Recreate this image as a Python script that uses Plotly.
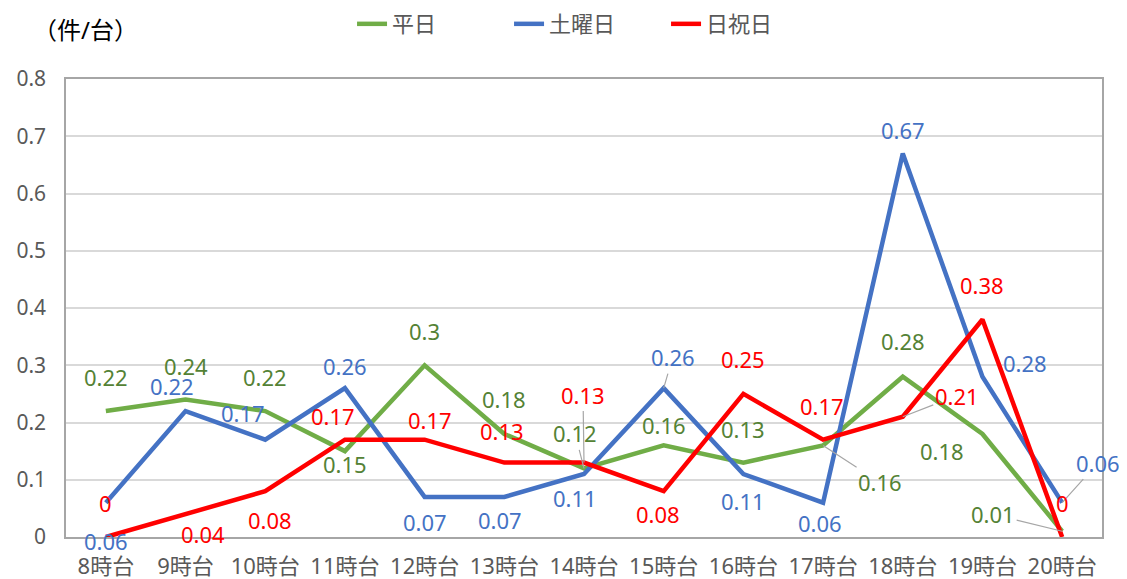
import plotly.graph_objects as go

categories = ["8時台", "9時台", "10時台", "11時台", "12時台", "13時台", "14時台",
              "15時台", "16時台", "17時台", "18時台", "19時台", "20時台"]
weekday = [0.22, 0.24, 0.22, 0.15, 0.3, 0.18, 0.12, 0.16, 0.13, 0.16, 0.28, 0.18, 0.01]
saturday = [0.06, 0.22, 0.17, 0.26, 0.07, 0.07, 0.11, 0.26, 0.11, 0.06, 0.67, 0.28, 0.06]
holiday = [0, 0.04, 0.08, 0.17, 0.17, 0.13, 0.13, 0.08, 0.25, 0.17, 0.21, 0.38, 0]
y_ticks = [0, 0.1, 0.2, 0.3, 0.4, 0.5, 0.6, 0.7, 0.8]

FONT = "Noto Sans, Noto Sans CJK JP"
GRAY = "#595959"

series = [
    ("平日", weekday, "#70AD47", "#548235"),
    ("土曜日", saturday, "#4472C4", "#4472C4"),
    ("日祝日", holiday, "#FF0000", "#FF0000"),
]

# label offsets in screen pixels (dx, dy down); "L" means leader line
label_pos = {
    "平日": [(0, -34), (0, -34), (0, -34), (0, 13), (0, -34), (0, -35), ("L", -9, -35),
            (0, -20), (0, -34), ("L", 57, 37), (0, -36), (-40, 17), ("L", -69, -17)],
    "土曜日": [(0, 38), (-14, -25), (-22, -27), (0, -22), (0, 25), (-4, 23), (-9, 24),
            ("L", 9, -31), (0, 27), (-3, 20), (0, -23), (43, -14), ("L", 36, -40)],
    "日祝日": [(0, -34), (17, 20), (5, 29), (-12, -24), (5, -20), (-2, -32), ("L", -1, -68),
            (-6, 23), (0, -35), (-1, -34), ("L", 54, -21), (0, -34), (0, -34)],
}

fig = go.Figure()
annotations = []
for name, vals, lc, tc in series:
    fig.add_trace(go.Scatter(
        x=categories, y=vals, mode="lines", name=name,
        line=dict(color=lc, width=4.5), cliponaxis=False,
    ))
    for cat, v, pos in zip(categories, vals, label_pos[name]):
        txt = f"{v:g}"
        if pos[0] == "L":
            annotations.append(dict(
                x=cat, y=v, xref="x", yref="y", text=txt, showarrow=True,
                ax=pos[1], ay=pos[2], arrowhead=0, arrowwidth=1.2,
                arrowcolor="#A6A6A6", standoff=0,
                font=dict(family=FONT, size=22, color=tc),
            ))
        else:
            annotations.append(dict(
                x=cat, y=v, xref="x", yref="y", text=txt, showarrow=False,
                xshift=pos[0], yshift=-pos[1],
                font=dict(family=FONT, size=22, color=tc),
            ))

annotations.append(dict(
    x=-0.0338, y=1.107, xref="paper", yref="paper", text="（件/台）",
    showarrow=False, xanchor="left", yanchor="middle",
    font=dict(family=FONT, size=24, color="#000000"),
))

# page body has an 8px default margin, so the figure is 8px smaller
fig.update_layout(
    width=1119, height=571,
    margin=dict(l=58, r=25, t=71, b=42, autoexpand=False),
    paper_bgcolor="white", plot_bgcolor="white",
    font=dict(family=FONT, color=GRAY, size=20),
    showlegend=True,
    legend=dict(orientation="h", x=0.2761, xanchor="left", y=1.12, yanchor="middle",
                font=dict(family=FONT, size=22, color=GRAY),
                entrywidth=112, entrywidthmode="pixels",
                bgcolor="rgba(0,0,0,0)"),
    annotations=annotations,
)
fig.update_xaxes(
    type="category", range=[-0.5, len(categories) - 0.5], automargin=False,
    showgrid=False, showline=True, mirror=True, linecolor="#A6A6A6", linewidth=1.5,
    tickfont=dict(family=FONT, size=22, color=GRAY),
    ticks="outside", ticklen=9, tickcolor="rgba(0,0,0,0)",
)
fig.update_yaxes(
    range=[0, 0.8], tickvals=y_ticks, ticktext=[f"{t:g}" for t in y_ticks],
    automargin=False,
    showgrid=True, gridcolor="#D9D9D9", gridwidth=1.5,
    showline=True, mirror=True, linecolor="#A6A6A6", linewidth=1.5,
    zeroline=False, ticks="outside", ticklen=14, tickcolor="rgba(0,0,0,0)",
    tickfont=dict(family=FONT, size=21, color=GRAY),
)

fig.write_html("out.html")
